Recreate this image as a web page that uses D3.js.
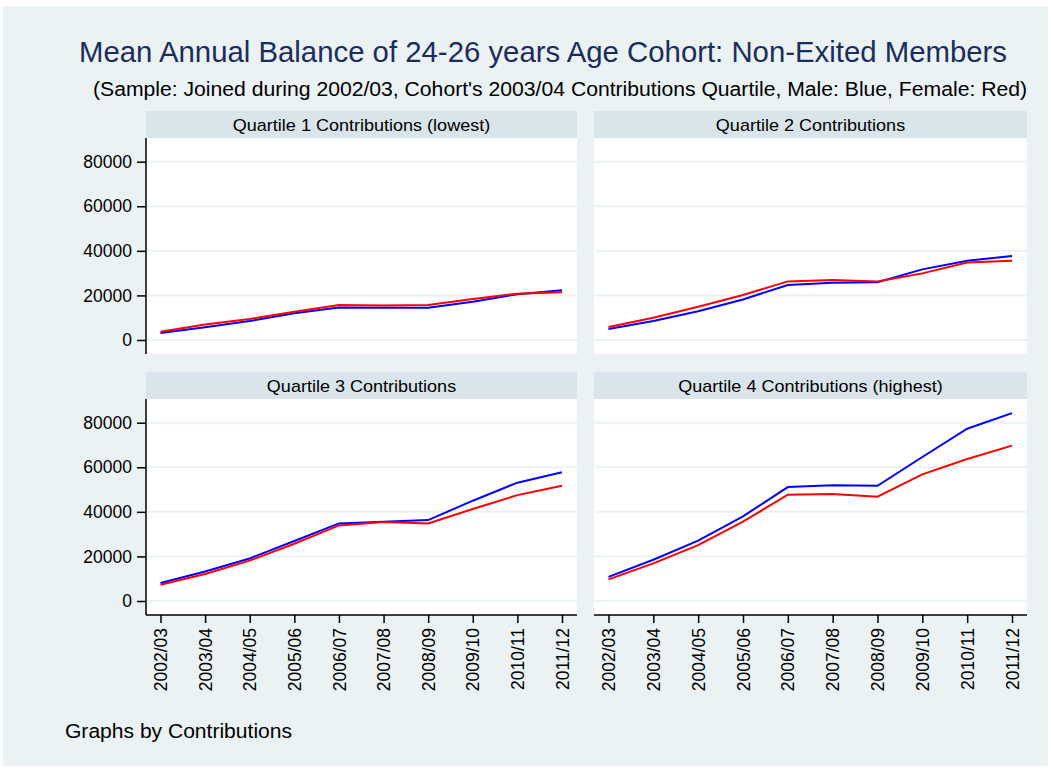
<!DOCTYPE html>
<html>
<head>
<meta charset="utf-8">
<script src="https://cdn.jsdelivr.net/npm/d3@7"></script>
<style>
  html, body { margin: 0; padding: 0; background: #ffffff; }
  svg { display: block; font-family: "Liberation Sans", Arial, Helvetica, sans-serif; }
</style>
</head>
<body>
<svg id="chart" width="1051" height="771"></svg>
<script>
// Financial years on the x axis
const years = ["2002/03", "2003/04", "2004/05", "2005/06", "2006/07",
               "2007/08", "2008/09", "2009/10", "2010/11", "2011/12"];

// Panel headings, one per contributions quartile
const quartileLabels = [
  "Quartile 1 Contributions (lowest)",
  "Quartile 2 Contributions",
  "Quartile 3 Contributions",
  "Quartile 4 Contributions (highest)"
];

// Mean annual balance, male members (blue)
const maleQ1 = [3100, 5700, 8500, 12000, 14600, 14500, 14500, 17200, 20500, 22300];
const maleQ2 = [4900, 8500, 12900, 18200, 24700, 25700, 25900, 31700, 35600, 37700];
const maleQ3 = [8100, 13200, 19100, 26900, 34800, 35600, 36300, 45000, 53100, 57800];
const maleQ4 = [10800, 18500, 27100, 38000, 51100, 51900, 51700, 64600, 77300, 84300];

// Mean annual balance, female members (red)
const femaleQ1 = [3700, 7000, 9400, 12700, 15700, 15500, 15700, 18400, 20800, 21400];
const femaleQ2 = [5800, 10000, 14900, 20200, 26300, 26900, 26200, 29900, 34800, 35600];
const femaleQ3 = [7300, 12100, 18100, 25700, 33900, 35400, 34800, 41300, 47500, 51700];
const femaleQ4 = [9700, 16900, 25100, 35600, 47700, 48000, 46800, 56800, 63700, 69700];

const yTicks = [0, 20000, 40000, 60000, 80000];

const maleSeries = [maleQ1, maleQ2, maleQ3, maleQ4];
const femaleSeries = [femaleQ1, femaleQ2, femaleQ3, femaleQ4];

const W = 1051, H = 771;
const svg = d3.select("#chart");

// colours
const outerBg = "#eaf2f3";
const stripBg = "#d9e5eb";
const gridCol = "#eaf2f3";
const titleCol = "#1c2c5c";

// white frame then the graph region
svg.append("rect").attr("width", W).attr("height", H).attr("fill", "#ffffff");
svg.append("rect").attr("x", 3).attr("y", 6).attr("width", W - 6).attr("height", H - 11)
  .attr("fill", outerBg);

// titles
svg.append("text")
  .attr("x", 543).attr("y", 62)
  .attr("text-anchor", "middle")
  .attr("fill", titleCol)
  .style("font-size", "29px")
  .attr("textLength", 928).attr("lengthAdjust", "spacingAndGlyphs")
  .text("Mean Annual Balance of 24-26 years Age Cohort: Non-Exited Members");

svg.append("text")
  .attr("x", 560).attr("y", 96)
  .attr("text-anchor", "middle")
  .attr("fill", "#000000")
  .style("font-size", "20px")
  .attr("textLength", 934).attr("lengthAdjust", "spacingAndGlyphs")
  .text("(Sample: Joined during 2002/03, Cohort's 2003/04 Contributions Quartile, Male: Blue, Female: Red)");

// panel layout
const cols = [{ x0: 146, x1: 577 }, { x0: 594, x1: 1027 }];
const rows = [
  { stripTop: 111, top: 138, bottom: 354, zero: 340, top80: 161.7 },
  { stripTop: 372, top: 399, bottom: 615, zero: 601, top80: 422.7 }
];

const stripWidths = [257, 188, 188, 250];

quartileLabels.forEach((label, i) => {
  const r = rows[Math.floor(i / 2)];
  const c = cols[i % 2];
  const isLeft = i % 2 === 0;
  const isBottom = Math.floor(i / 2) === 1;

  // value scale anchored on the 0 and 80000 gridlines
  const y0 = d3.scaleLinear().domain([0, 80000]).range([r.zero, r.top80]);
  const y = d3.scaleLinear()
    .domain([y0.invert(r.bottom), y0.invert(r.top)])
    .range([r.bottom, r.top]);

  const x = d3.scalePoint()
    .domain(years)
    .range([c.x0 + 14.5, c.x1 - 15]);

  // strip heading
  svg.append("rect")
    .attr("x", c.x0).attr("y", r.stripTop)
    .attr("width", c.x1 - c.x0).attr("height", r.top - r.stripTop)
    .attr("fill", stripBg);
  const st = svg.append("text")
    .attr("x", (c.x0 + c.x1) / 2).attr("y", r.stripTop + 20)
    .attr("text-anchor", "middle")
    .style("font-size", "17px")
    .attr("fill", "#000")
    .text(label);
  st.attr("textLength", st.node().getComputedTextLength() * 1.06)
    .attr("lengthAdjust", "spacingAndGlyphs");

  // plot area
  svg.append("rect")
    .attr("x", c.x0).attr("y", r.top)
    .attr("width", c.x1 - c.x0).attr("height", r.bottom - r.top)
    .attr("fill", "#ffffff");

  const g = svg.append("g");

  // gridlines
  g.selectAll("line.grid").data(yTicks).enter().append("line")
    .attr("class", "grid")
    .attr("x1", c.x0 + 1).attr("x2", c.x1)
    .attr("y1", d => y(d)).attr("y2", d => y(d))
    .attr("stroke", gridCol).attr("stroke-width", 2);

  // y axis on the left column only
  if (isLeft) {
    const ay = svg.append("g")
      .attr("transform", `translate(${c.x0},0)`)
      .call(d3.axisLeft(y).tickValues(yTicks).tickSize(9).tickPadding(5).tickFormat(d3.format("d")));
    ay.select(".domain").attr("d", `M0,${r.top}V${r.bottom}`).attr("stroke", "#000").attr("stroke-width", 1.5);
    ay.selectAll(".tick line").attr("stroke", "#000").attr("stroke-width", 1.5);
    ay.selectAll(".tick text")
      .style("font-size", "17.5px")
      .style("font-family", "'Liberation Sans', Arial, sans-serif")
      .attr("fill", "#000");
  }

  // x axis on the bottom row only
  if (isBottom) {
    const ax = svg.append("g")
      .attr("transform", `translate(0,${r.bottom})`)
      .call(d3.axisBottom(x).tickSize(8).tickPadding(5));
    ax.select(".domain").attr("d", `M${c.x0},0H${c.x1}`).attr("stroke", "#000").attr("stroke-width", 1.5);
    ax.selectAll(".tick line").attr("stroke", "#000").attr("stroke-width", 1.5);
    ax.selectAll(".tick text")
      .style("font-size", "17.5px")
      .style("font-family", "'Liberation Sans', Arial, sans-serif")
      .attr("fill", "#000")
      .attr("text-anchor", "end")
      .attr("dy", "0.35em")
      .attr("transform", "translate(0,13) rotate(-90)")
      .attr("x", 0).attr("y", 0);
  }

  const line = d3.line()
    .x((d, j) => x(years[j]))
    .y(d => y(d));

  g.append("path").datum(maleSeries[i])
    .attr("d", line).attr("fill", "none")
    .attr("stroke", "#0000ff").attr("stroke-width", 2);
  g.append("path").datum(femaleSeries[i])
    .attr("d", line).attr("fill", "none")
    .attr("stroke", "#ff0000").attr("stroke-width", 2);
});

// note
svg.append("text")
  .attr("x", 65).attr("y", 738)
  .style("font-size", "20px")
  .attr("fill", "#000")
  .attr("textLength", 227).attr("lengthAdjust", "spacingAndGlyphs")
  .text("Graphs by Contributions");
</script>
</body>
</html>
